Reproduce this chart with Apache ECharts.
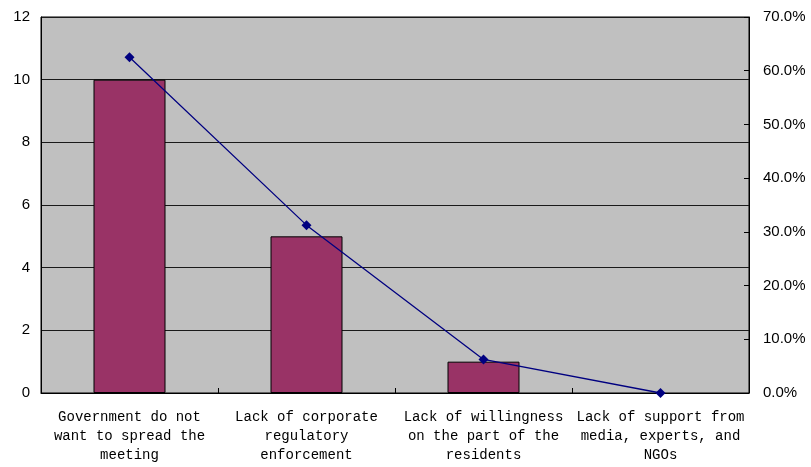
<!DOCTYPE html>
<html>
<head>
<meta charset="utf-8">
<script src="https://cdn.jsdelivr.net/npm/echarts@6/dist/echarts.min.js"></script>
<style>
  html, body { margin: 0; padding: 0; background: #fff; }
  #chart { width: 811px; height: 467px; }
</style>
</head>
<body>
<div id="chart"></div>
<script>
// Reasons given, with counts and their share of responses
const categories = [
  'Government do not\nwant to spread the\nmeeting',
  'Lack of corporate\nregulatory\nenforcement',
  'Lack of willingness\non the part of the\nresidents',
  'Lack of support from\nmedia, experts, and\nNGOs'
];
const counts = [10, 5, 1, 0];
const shares = [0.625, 0.3125, 0.0625, 0];
const leftTicks = { min: 0, max: 12, step: 2 };
const rightTicks = { min: 0, max: 0.7, step: 0.1 };

const chart = echarts.init(document.getElementById('chart'), null, { renderer: 'canvas' });

// an empty bar gets no outline, so nothing is drawn for a zero count
const barData = counts.map(v => ({
  value: v,
  itemStyle: v === 0 ? { borderWidth: 0 } : undefined
}));

chart.setOption({
  animation: false,
  backgroundColor: '#ffffff',
  grid: {
    left: 41, right: 62, top: 17, bottom: 74,
    show: true,
    backgroundColor: '#c0c0c0',
    borderColor: '#000000',
    borderWidth: 1
  },
  xAxis: {
    type: 'category',
    data: categories,
    axisLine: { lineStyle: { color: '#000', width: 1 } },
    axisTick: { show: true, inside: true, length: 5, lineStyle: { color: '#000' } },
    axisLabel: {
      interval: 0,
      margin: 15,
      color: '#000',
      fontFamily: 'Liberation Mono',
      fontSize: 14,
      lineHeight: 19
    }
  },
  yAxis: [
    {
      type: 'value',
      min: leftTicks.min, max: leftTicks.max, interval: leftTicks.step,
      axisLine: { show: true, lineStyle: { color: '#000' } },
      axisTick: { show: false },
      splitLine: { show: true, lineStyle: { color: '#1a1a1a', width: 1 } },
      axisLabel: { color: '#000', fontFamily: 'Liberation Sans', fontSize: 15, margin: 11 }
    },
    {
      type: 'value',
      position: 'right',
      min: rightTicks.min, max: rightTicks.max, interval: rightTicks.step,
      axisLine: { show: true, lineStyle: { color: '#000' } },
      axisTick: { show: true, inside: true, length: 5, lineStyle: { color: '#000' } },
      splitLine: { show: false },
      axisLabel: {
        color: '#000', fontFamily: 'Liberation Sans', fontSize: 15, margin: 14,
        formatter: v => (v * 100).toFixed(1) + '%'
      }
    }
  ],
  series: [
    {
      type: 'bar',
      data: barData,
      barWidth: 72,
      itemStyle: { color: '#993366', borderColor: '#000', borderWidth: 1 }
    },
    {
      type: 'line',
      yAxisIndex: 1,
      data: shares,
      symbol: 'diamond',
      symbolSize: 10,
      lineStyle: { color: '#000080', width: 1.3 },
      itemStyle: { color: '#000080' }
    }
  ]
});
</script>
</body>
</html>
